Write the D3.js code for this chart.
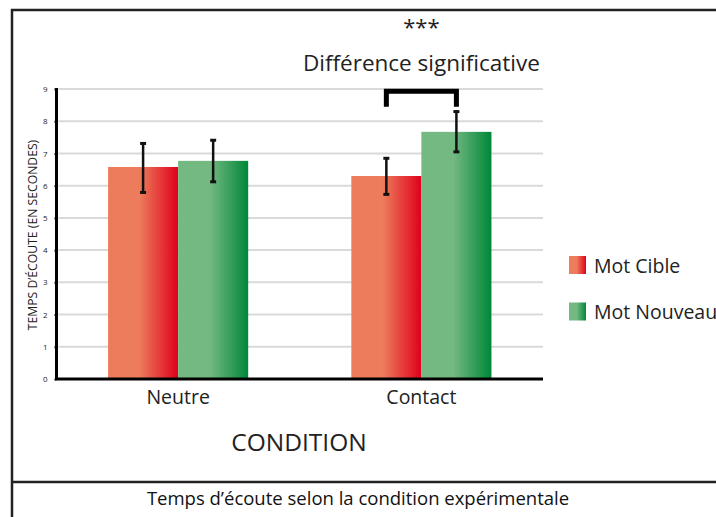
<!DOCTYPE html>
<html>
<head>
<meta charset="utf-8">
<script src="https://cdn.jsdelivr.net/npm/d3@7"></script>
<style>
  body { margin: 0; background: #fff; }
  svg { display: block; font-family: "Open Sans", sans-serif; }
</style>
</head>
<body>
<script>
// data
const conditions = ["Neutre", "Contact"];
const series = ["Mot Cible", "Mot Nouveau"];
const means = [[6.58, 6.77], [6.30, 7.67]];
const errLow = [[5.79, 6.12], [5.73, 7.05]];
const errHigh = [[7.31, 7.41], [6.85, 8.30]];
const yTicks = [0, 1, 2, 3, 4, 5, 6, 7, 8, 9];
const yTitle = "TEMPS D\u2019ÉCOUTE (EN SECONDES)";
const xTitle = "CONDITION";
const sigStars = "***";
const sigText = "Différence significative";
const caption = "Temps d\u2019écoute selon la condition expérimentale";

const W = 716, H = 517;
const margin = {top: 89, right: 173, bottom: 138, left: 56.5};

const svg = d3.select("body").append("svg")
    .attr("width", W)
    .attr("height", H);

// gradients for the bars
const defs = svg.append("defs");
const grads = [
    {id: "gRed", from: "#ec7c5b", to: "#e0001b"},
    {id: "gGreen", from: "#74b981", to: "#00873a"}
];
grads.forEach(g => {
    let lg = defs.append("linearGradient").attr("id", g.id)
        .attr("x1", "0%").attr("x2", "100%").attr("y1", "0%").attr("y2", "0%");
    lg.append("stop").attr("offset", "45%").attr("stop-color", g.from);
    lg.append("stop").attr("offset", "100%").attr("stop-color", g.to);
});
const fillOf = i => `url(#${grads[i].id})`;

// frame
svg.append("rect")
    .attr("x", 12).attr("y", 10)
    .attr("width", W).attr("height", H)
    .attr("fill", "none")
    .attr("stroke", "#222")
    .attr("stroke-width", 2.5);
svg.append("line")
    .attr("x1", 12).attr("x2", W)
    .attr("y1", 482).attr("y2", 482)
    .attr("stroke", "#222")
    .attr("stroke-width", 2.5);

const x0 = d3.scaleBand(conditions, [margin.left, W - margin.right])
    .paddingInner(0.424)
    .paddingOuter(0.212);
const x1 = d3.scaleBand(series, [0, x0.bandwidth()]);
const y = d3.scaleLinear([0, 9], [H - margin.bottom, margin.top]);

// grid
svg.append("g")
    .selectAll("line")
    .data(yTicks.filter(d => d > 0))
    .join("line")
      .attr("x1", margin.left + 2)
      .attr("x2", W - margin.right)
      .attr("y1", d => y(d))
      .attr("y2", d => y(d))
      .attr("stroke", "#d9d9d9")
      .attr("stroke-width", 2);

// y axis
const yAxis = svg.append("g")
    .attr("transform", `translate(${margin.left},0)`)
    .call(d3.axisLeft(y).tickValues(yTicks).tickSize(2).tickPadding(7));
yAxis.select(".domain").attr("stroke", "#000").attr("stroke-width", 3)
    .attr("d", `M0,${y(9) - 1}V${y(0)}`);
yAxis.selectAll(".tick line").attr("stroke", "#000").attr("stroke-width", 2);
yAxis.selectAll(".tick text")
    .attr("font-size", 8)
    .attr("fill", "#222")
    .attr("font-family", "Open Sans, sans-serif");

// bars
const groups = svg.append("g")
    .selectAll("g")
    .data(conditions)
    .join("g")
      .attr("transform", d => `translate(${x0(d)},0)`);

groups.selectAll("rect")
    .data((c, ci) => series.map((s, si) => ({s, si, v: means[ci][si]})))
    .join("rect")
      .attr("x", d => x1(d.s))
      .attr("width", x1.bandwidth())
      .attr("y", d => y(d.v))
      .attr("height", d => y(0) - y(d.v))
      .attr("fill", d => fillOf(d.si));

// error bars
const errs = groups.selectAll("g.err")
    .data((c, ci) => series.map((s, si) => ({s, lo: errLow[ci][si], hi: errHigh[ci][si]})))
    .join("g")
      .attr("class", "err")
      .attr("transform", d => `translate(${x1(d.s) + x1.bandwidth() / 2},0)`)
      .attr("stroke", "#111");
errs.append("line")
    .attr("y1", d => y(d.hi)).attr("y2", d => y(d.lo))
    .attr("stroke-width", 2.5);
errs.selectAll("line.cap")
    .data(d => [d.hi, d.lo])
    .join("line")
      .attr("class", "cap")
      .attr("x1", -3).attr("x2", 3)
      .attr("y1", d => y(d)).attr("y2", d => y(d))
      .attr("stroke-width", 3);

// x axis
const xAxis = svg.append("g")
    .attr("transform", `translate(0,${y(0)})`)
    .call(d3.axisBottom(x0).tickSize(0).tickPadding(11));
xAxis.select(".domain").attr("stroke", "#000").attr("stroke-width", 3)
    .attr("d", `M${margin.left - 1.5},0H${W - margin.right}`);
xAxis.selectAll(".tick text")
    .attr("font-size", 19.5)
    .attr("fill", "#222")
    .attr("font-family", "Open Sans, sans-serif");

// significance bracket between the Contact bars
const cx = x0("Contact");
const bx1 = cx + x1(series[0]) + x1.bandwidth() / 2;
const bx2 = cx + x1(series[1]) + x1.bandwidth() / 2;
svg.append("path")
    .attr("d", `M${bx1},${y(8.45)}V${y(8.93)}H${bx2}V${y(8.45)}`)
    .attr("fill", "none")
    .attr("stroke", "#000")
    .attr("stroke-width", 5);

const midC = cx + x0.bandwidth() / 2;
svg.append("text")
    .attr("x", midC).attr("y", 35)
    .attr("text-anchor", "middle")
    .attr("font-size", 22)
    .attr("fill", "#222")
    .text(sigStars);
svg.append("text")
    .attr("x", midC).attr("y", 71)
    .attr("text-anchor", "middle")
    .attr("font-size", 22.5)
    .attr("fill", "#222")
    .text(sigText);

// axis titles
svg.append("text")
    .attr("transform", `translate(37,${(y(0) + y(9)) / 2 + 1}) rotate(-90)`)
    .attr("text-anchor", "middle")
    .attr("font-size", 12.2)
    .attr("fill", "#222")
    .text(yTitle);
svg.append("text")
    .attr("x", 299).attr("y", 451)
    .attr("text-anchor", "middle")
    .attr("font-size", 24.5)
    .attr("fill", "#222")
    .text(xTitle);

// legend
const legend = svg.append("g")
    .selectAll("g")
    .data(series)
    .join("g")
      .attr("transform", (d, i) => `translate(569,${256 + i * 46.5})`);
legend.append("rect")
    .attr("width", 17).attr("height", 18)
    .attr("fill", (d, i) => fillOf(i));
legend.append("text")
    .attr("x", 25).attr("y", 16.5)
    .attr("font-size", 19.5)
    .attr("fill", "#222")
    .text(d => d);

// caption
svg.append("text")
    .attr("x", 358).attr("y", 505)
    .attr("text-anchor", "middle")
    .attr("font-size", 18.5)
    .attr("fill", "#111")
    .text(caption);
</script>
</body>
</html>
